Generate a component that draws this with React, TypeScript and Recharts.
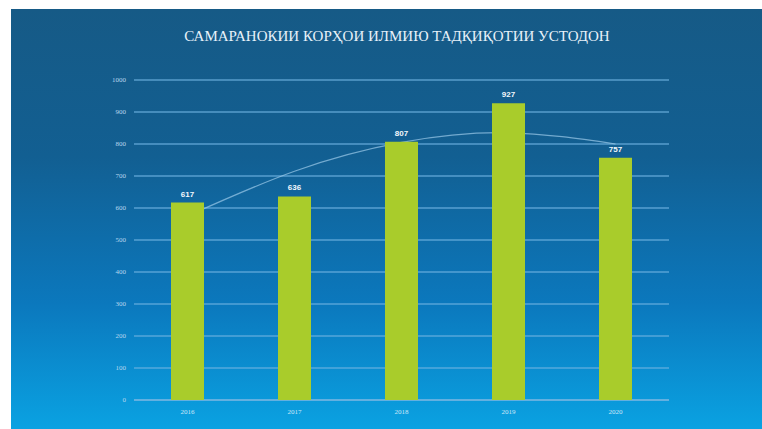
import React from "react";
import { ComposedChart, Bar, Line, XAxis, YAxis, CartesianGrid, LabelList } from "recharts";

const years = ["2016", "2017", "2018", "2019", "2020"];
const works = [617, 636, 807, 927, 757];
// trend line
const trend = [575, 715, 805, 835, 800];
const yTicks = [0, 100, 200, 300, 400, 500, 600, 700, 800, 900, 1000];

const title = "САМАРАНОКИИ КОРҲОИ ИЛМИЮ ТАДҚИҚОТИИ УСТОДОН";

const data = years.map((y, i) => ({ year: y, works: works[i], trend: trend[i] }));

const layer: React.CSSProperties = { position: "absolute", left: 0, top: 0 };

export default function App() {
  return (
    <div style={{ position: "absolute", left: 0, top: 0, width: 762, height: 429, background: "#fff", overflow: "hidden" }}>
      {/* blue slide background */}
      <div
        style={{
          position: "absolute",
          left: 11,
          top: 9,
          width: 751,
          height: 420,
          background: "linear-gradient(180deg, #165a86 0%, #125f92 35%, #0b78bd 70%, #0aa2e2 100%)",
        }}
      />
      <div
        style={{
          position: "absolute",
          left: 0,
          top: 28,
          width: 794,
          textAlign: "center",
          color: "#e8f2fa",
          fontFamily: "'Liberation Serif', serif",
          fontSize: 15,
          whiteSpace: "nowrap",
        }}
      >
        {title}
      </div>
      {/* grid, axes and trend line (behind the bars) */}
      <div style={layer}>
        <ComposedChart width={762} height={429} data={data} margin={{ top: 80, right: 93, bottom: 0, left: 0 }}>
          <CartesianGrid vertical={false} stroke="#6fb3e0" strokeOpacity={0.75} strokeWidth={1.5} />
          <XAxis
            dataKey="year"
            height={29}
            axisLine={{ stroke: "#6fb3e0", strokeWidth: 1.5 }}
            tickLine={false}
            tick={{ fontSize: 7, fill: "#cfe8f8", fontFamily: "'Liberation Serif', serif" }}
            tickMargin={3}
          />
          <YAxis
            width={134}
            domain={[0, 1000]}
            ticks={yTicks}
            axisLine={false}
            tickLine={false}
            tick={{ fontSize: 7, fill: "#b8d6ee", fontFamily: "'Liberation Serif', serif" }}
          />
          <Bar dataKey="works" fill="transparent" barSize={33} isAnimationActive={false} />
          <Line
            dataKey="trend"
            type="natural"
            stroke="#9ccbea"
            strokeOpacity={0.7}
            strokeWidth={1.2}
            dot={false}
            isAnimationActive={false}
          />
        </ComposedChart>
      </div>
      {/* bars on top */}
      <div style={layer}>
        <ComposedChart width={762} height={429} data={data} margin={{ top: 80, right: 93, bottom: 29, left: 134 }}>
          <XAxis dataKey="year" hide />
          <YAxis domain={[0, 1000]} ticks={yTicks} hide />
          <Bar dataKey="works" fill="#a9cc2b" barSize={33} isAnimationActive={false}>
            <LabelList
              dataKey="works"
              position="top"
              offset={6}
              fill="#f2f8fc"
              fontSize={8}
              fontWeight="bold"
              fontFamily="'Liberation Sans', sans-serif"
            />
          </Bar>
        </ComposedChart>
      </div>
    </div>
  );
}
